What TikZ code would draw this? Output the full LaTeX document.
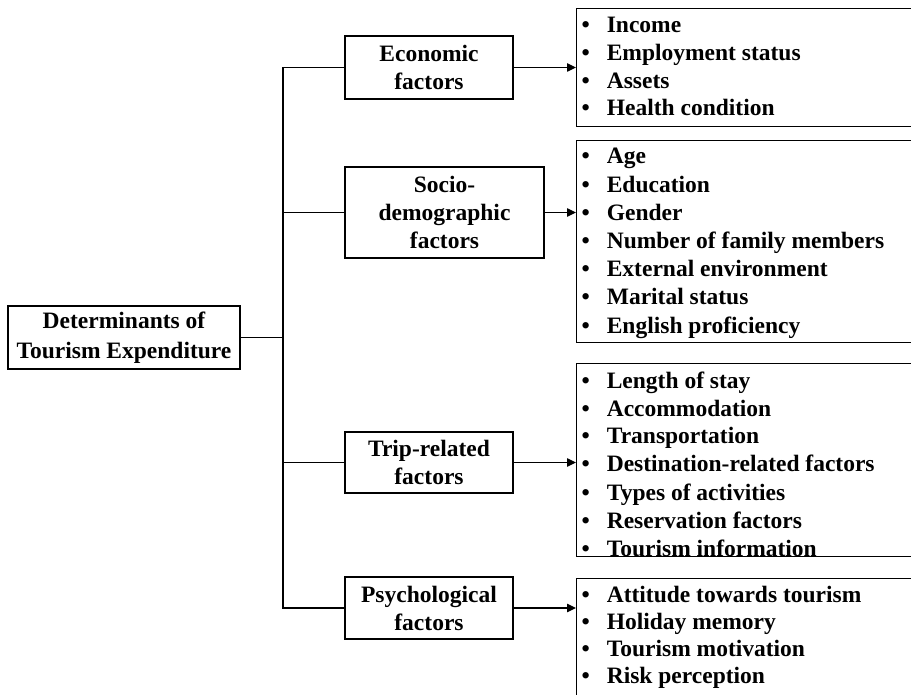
\documentclass[tikz,border=0pt]{standalone}
\usepackage{fontspec}
\setmainfont{Liberation Serif}
\usetikzlibrary{arrows.meta, positioning}
\newdimen\px \px=0.5pt
\tikzset{
  every picture/.style={font=\bfseries\fontsize{11.75}{14}\selectfont, line width=0.6pt},
  box/.style={draw, align=center, inner sep=0pt},
  listbox/.style={draw, anchor=north west, inner sep=0pt, minimum width=360\px},
  item/.style={anchor=base west, inner sep=0pt},
  arrow/.style={-{Triangle[length=4.5pt, width=4.2pt]}},
}

\begin{document}
\begin{tikzpicture}[x=\px, y=-\px]
  \clip (0,0) rectangle (911,695);
  % root and the four groups
  \node[box, minimum width=232\px, minimum height=63\px, font=\bfseries\fontsize{11.75}{15}\selectfont] (root) at (124,337.5) {Determinants of\\Tourism Expenditure};
  \node[box, minimum width=168\px, minimum height=63\px] (eco) at (429,67.5) {Economic\\factors};
  \node[box, minimum width=199\px, minimum height=91\px] (soc) at (444.5,212.5) {Socio-\\demographic\\factors};
  \node[box, minimum width=168\px, minimum height=61\px] (trip) at (429,462.5) {Trip-related\\factors};
  \node[box, minimum width=168\px, minimum height=62\px] (psy) at (429,608) {Psychological\\factors};
  \coordinate (hub) at (283,337.5);
  \draw (root) -- (hub);
  \draw (eco.west) -- (eco.west -| hub) -- (psy.west -| hub) -- (psy.west);
  \draw (soc.west) -- (soc.west -| hub);
  \draw (trip.west) -- (trip.west -| hub);
  % item lists
  \node[listbox, minimum height=118\px] (ecolist) at (576,8) {};
  \node[listbox, minimum height=202\px] (soclist) at (576,140) {};
  \node[listbox, minimum height=193\px] (triplist) at (576,363) {};
  \node[listbox, minimum height=142\px] (psylist) at (576,578) {};
  \foreach \g/\l in {eco/ecolist, soc/soclist, trip/triplist, psy/psylist}
    \draw[arrow] (\g) -- (\g -| \l.west);
  \foreach \t [count=\k from 0] in {Income, Employment status, Assets, Health condition}
    \node[item] (eco-\k) at (581,32.5+27.8*\k) {\textbullet\hspace{17\px}\t};
  \foreach \t [count=\k from 0] in {Age, Education, Gender, Number of family members, External environment, Marital status, English proficiency}
    \node[item] (soc-\k) at (581,164+28.2*\k) {\textbullet\hspace{17\px}\t};
  \foreach \t [count=\k from 0] in {Length of stay, Accommodation, Transportation, Destination-related factors, Types of activities, Reservation factors, Tourism information}
    \node[item] (trip-\k) at (581,388+28*\k) {\textbullet\hspace{17\px}\t};
  \foreach \t [count=\k from 0] in {Attitude towards tourism, Holiday memory, Tourism motivation, Risk perception}
    \node[item] (psy-\k) at (581,602+27.3*\k) {\textbullet\hspace{17\px}\t};
\end{tikzpicture}
\end{document}
